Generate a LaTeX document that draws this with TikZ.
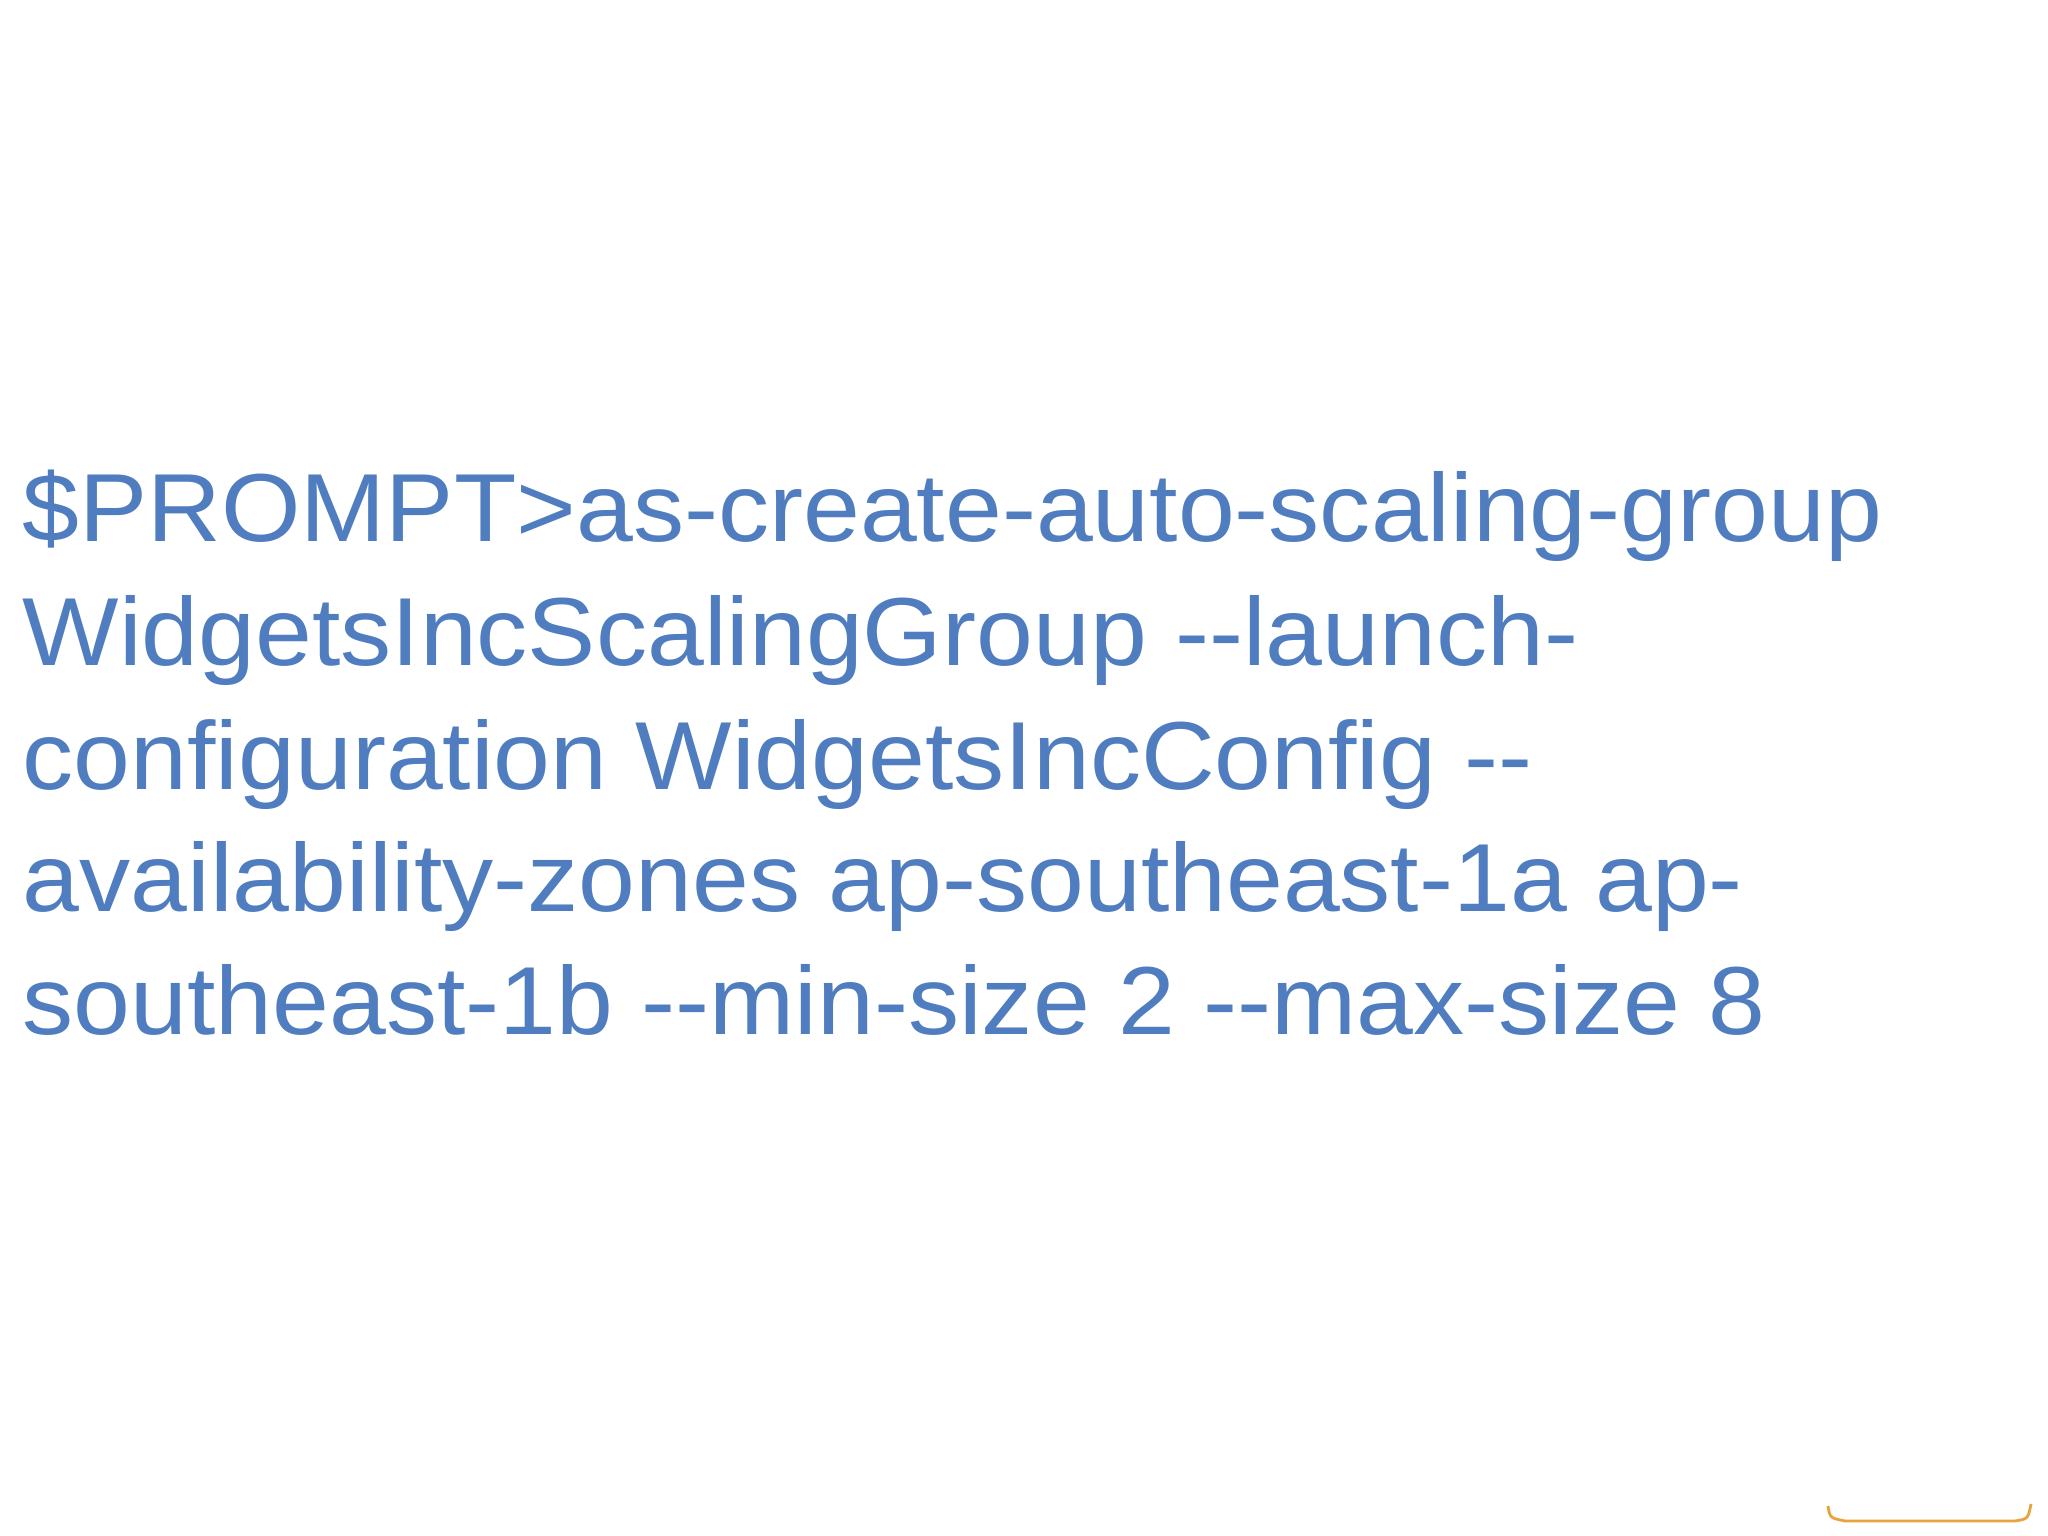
\documentclass[tikz,border=0pt]{standalone}
\usepackage{fontspec}
\setmainfont{Liberation Sans}[FakeStretch=1.057]
\definecolor{cmdblue}{HTML}{4F7DBF}
\definecolor{accent}{HTML}{E8A33C}
\begin{document}
\begin{tikzpicture}[x=1cm,y=1cm,
  cmdline/.style={anchor=base west,inner sep=0pt,text=cmdblue,font=\fontsize{27.5pt}{35pt}\selectfont}]
\useasboundingbox (0,0) rectangle (20.48,15.36);
\fill[white] (0,0) rectangle (20.48,15.36);
\node[cmdline] (l1) at (0.22,9.94) {\$PROMPT>as-create-auto-scaling-group};
\node[cmdline] (l2) at (0.22,8.70) {WidgetsIncScalingGroup -{}-launch-};
\node[cmdline] (l3) at (0.22,7.46) {configuration WidgetsIncConfig -{}-};
\node[cmdline] (l4) at (0.22,6.24) {availability-zones ap-southeast-1a ap-};
\node[cmdline] (l5) at (0.22,5.01) {southeast-1b -{}-min-size 2 -{}-max-size 8};
\draw[accent,line width=0.8pt] (18.28,0.30) .. controls (18.30,0.18) .. (18.45,0.15) -- (20.15,0.15) .. controls (20.28,0.17) .. (20.31,0.32);
\end{tikzpicture}
\end{document}
